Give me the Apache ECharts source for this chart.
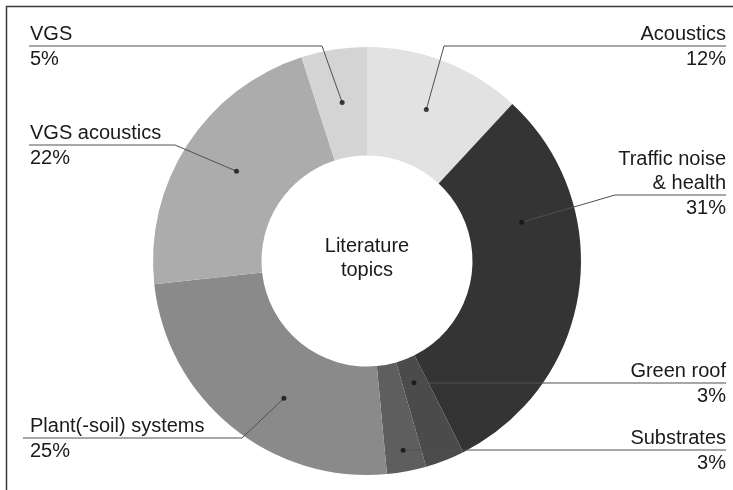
<!DOCTYPE html>
<html>
<head>
<meta charset="utf-8">
<script src="https://cdn.jsdelivr.net/npm/echarts@6/dist/echarts.min.js"></script>
<style>
  html, body { margin: 0; padding: 0; background: #fff; }
  #chart { width: 733px; height: 490px; }
</style>
</head>
<body>
<div id="chart"></div>
<script>
// Topic shares (percent)
const categories = ['Acoustics', 'Traffic noise\n& health', 'Green roof', 'Substrates', 'Plant(-soil) systems', 'VGS acoustics', 'VGS'];
const shares = [12, 31, 3, 3, 25, 22, 5];
const centerTitle = 'Literature\ntopics';

const colors = ['#e2e2e2', '#343434', '#4b4b4b', '#5e5e5e', '#8a8a8a', '#acacac', '#d4d4d4'];
const FONT = '"Liberation Sans", Arial, sans-serif';
const TEXT = '#1a1a1a';
const LINE = '#505050';

const CX = 367, CY = 261, R_OUT = 214, R_IN = 105.5;
const total = shares.reduce((a, b) => a + b, 0);

// Start of each leader line: position across the slice (0..1) and share of the outer radius
const anchors = [
  { t: 0.50, r: 0.76 }, { t: 0.30, r: 0.745 }, { t: 0.53, r: 0.61 }, { t: 0.49, r: 0.90 },
  { t: 0.41, r: 0.75 }, { t: 0.52, r: 0.74 }, { t: 0.50, r: 0.75 }
];
// Label placement: side, y of the rule between name and value, x where the leader joins the rule
const labelPlaces = [
  { side: 'right', ruleY: 46,  elbowX: 444 },
  { side: 'right', ruleY: 195, elbowX: 615 },
  { side: 'right', ruleY: 383, elbowX: null },
  { side: 'right', ruleY: 450, elbowX: null },
  { side: 'left',  ruleY: 438, elbowX: 242, ruleStart: 23 },
  { side: 'left',  ruleY: 145, elbowX: 175 },
  { side: 'left',  ruleY: 46,  elbowX: 322 }
];
const RIGHT_EDGE = 726, LEFT_EDGE = 30;

// anchor points in data units: [radius fraction, cumulative share]
const anchorData = [];
let acc = 0;
shares.forEach((v, i) => {
  anchorData.push([anchors[i].r, acc + anchors[i].t * v]);
  acc += v;
});
function toPixel(d) {
  const th = d[1] / total * Math.PI * 2;
  return [CX + d[0] * R_OUT * Math.sin(th), CY - d[0] * R_OUT * Math.cos(th)];
}
const anchorPx = anchorData.map(toPixel);

const pieBase = {
  type: 'pie',
  center: [CX, CY],
  radius: [R_IN, R_OUT],
  startAngle: 90,
  clockwise: true,
  avoidLabelOverlap: false,
  emphasis: { disabled: true },
  silent: true
};

const chart = echarts.init(document.getElementById('chart'), null, { renderer: 'canvas' });
chart.setOption({
  animation: false,
  backgroundColor: '#fff',
  polar: { center: [CX, CY], radius: R_OUT },
  angleAxis: { type: 'value', min: 0, max: total, startAngle: 90, clockwise: true, show: false },
  radiusAxis: { type: 'value', min: 0, max: 1, show: false },
  graphic: [
    {
      type: 'rect', silent: true,
      shape: { x: 6.5, y: 6.5, width: 760, height: 520 },
      style: { fill: 'none', stroke: '#3a3a3a', lineWidth: 1.5 }
    },
    {
      type: 'text', silent: true, x: CX, y: 258, z: 10,
      style: { text: centerTitle, font: '20px ' + FONT, lineHeight: 24, align: 'center', verticalAlign: 'middle', fill: TEXT }
    }
  ],
  series: [
    // ring of slices
    Object.assign({}, pieBase, {
      z: 2,
      itemStyle: { borderWidth: 0 },
      label: { show: false },
      labelLine: { show: false },
      data: categories.map((name, i) => ({ name, value: shares[i], itemStyle: { color: colors[i] } }))
    }),
    // labels and leader lines, layered above the slices
    Object.assign({}, pieBase, {
      z: 3,
      itemStyle: { color: 'rgba(0,0,0,0)', borderWidth: 0 },
      data: categories.map((name, i) => ({ name, value: shares[i] })),
      label: {
        show: true,
        position: 'outer',
        overflow: 'none',
        color: TEXT,
        fontFamily: FONT,
        fontSize: 20,
        formatter: p => '{n|' + p.name + '}\n{v|' + p.value + '%}',
        rich: {
          n: { fontFamily: FONT, fontSize: 20, lineHeight: 24, color: TEXT },
          v: { fontFamily: FONT, fontSize: 20, lineHeight: 26, color: TEXT }
        }
      },
      labelLine: { show: true, length: 10, length2: 10, lineStyle: { color: LINE, width: 1 } },
      labelLayout: function (params) {
        const i = params.dataIndex;
        const p = labelPlaces[i];
        const nLines = categories[i].split('\n').length;
        const isRight = p.side === 'right';
        const dot = anchorPx[i];
        const elbow = [p.elbowX == null ? dot[0] : p.elbowX, p.ruleY];
        const end = [isRight ? RIGHT_EDGE : (p.ruleStart == null ? LEFT_EDGE - 1 : p.ruleStart), p.ruleY];
        return {
          x: isRight ? RIGHT_EDGE : LEFT_EDGE,
          y: p.ruleY - 24 * nLines,
          align: isRight ? 'right' : 'left',
          verticalAlign: 'top',
          labelLinePoints: [dot, elbow, end]
        };
      }
    }),
    // leader-line start dots
    {
      type: 'scatter',
      coordinateSystem: 'polar',
      z: 5,
      silent: true,
      symbol: 'circle',
      symbolSize: 5,
      itemStyle: { color: '#111' },
      data: anchorData
    }
  ]
});
</script>
</body>
</html>
